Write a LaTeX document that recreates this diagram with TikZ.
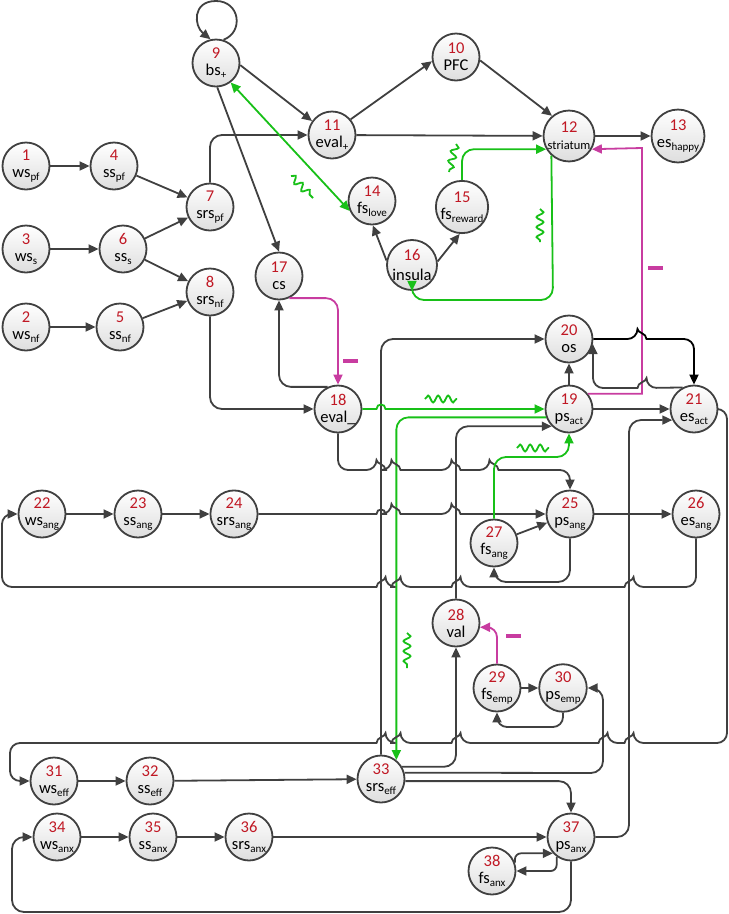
\documentclass[tikz,border=0pt]{standalone}
\usepackage{fontspec}
\setmainfont{Carlito}
\usetikzlibrary{arrows.meta,decorations.pathmorphing}
\definecolor{numred}{RGB}{192,24,36}
\definecolor{edgegray}{RGB}{64,64,64}
\definecolor{actgreen}{RGB}{24,192,24}
\definecolor{inhmag}{RGB}{200,60,160}
\newcommand{\nr}[1]{\textcolor{numred}{#1}\\}
\newcommand{\lo}[1]{{\fontsize{11}{10}\selectfont\raisebox{-2.5pt}{#1}}}
\newcommand{\hopr}[2]{-- (#1-4.5,#2) [sharp corners] .. controls (#1-4.5,#2-6) and (#1+4.5,#2-6) .. (#1+4.5,#2) -- (#1+6,#2) [rounded corners=10pt]}
\newcommand{\hopl}[2]{-- (#1+4.5,#2) [sharp corners] .. controls (#1+4.5,#2-6) and (#1-4.5,#2-6) .. (#1-4.5,#2) -- (#1-6,#2) [rounded corners=10pt]}
\begin{document}
\begin{tikzpicture}[x=1pt,y=-1pt,
  st/.style={circle,draw=edgegray,line width=1.8pt,minimum size=47pt,inner sep=0pt,
    top color=white,bottom color=black!13,align=center,font=\fontsize{16.5}{17}\selectfont},
  link/.style={draw=edgegray,line width=1.8pt,-{Triangle[length=10pt,width=9pt]}},
  excite/.style={link,draw=actgreen},
  inhibit/.style={link,draw=inhmag},
  wave/.style={draw=actgreen,line width=1.8pt,decorate,
    decoration={snake,amplitude=3.5pt,segment length=10pt}},
  minusbar/.style={rectangle,fill=inhmag,minimum width=15pt,minimum height=3.5pt,inner sep=0pt}
]
  \useasboundingbox (0,0) rectangle (729,914);

  \node[st] (wspf) at (26,166) {\nr{1}ws\lo{pf}};
  \node[st] (wsnf) at (26,327) {\nr{2}ws\lo{nf}};
  \node[st] (wss) at (26,249) {\nr{3}ws\lo{s}};
  \node[st] (sspf) at (114,166) {\nr{4}ss\lo{pf}};
  \node[st] (ssnf) at (120,327) {\nr{5}ss\lo{nf}};
  \node[st] (sss) at (123,249) {\nr{6}ss\lo{s}};
  \node[st] (srspf) at (210,207) {\nr{7}srs\lo{pf}};
  \node[st] (srsnf) at (210,292) {\nr{8}srs\lo{nf}};
  \node[st] (bsp) at (216,63) {\nr{9}bs\lo{+}};
  \node[st] (pfc) at (456,57) {\nr{10}PFC};
  \node[st] (evalp) at (332,135) {\nr{11}eval\lo{+}};
  \node[st] (striatum) at (569,136) {\nr{12}{\fontsize{12.5}{12}\selectfont striatum}};
  \node[st] (eshappy) at (678,136) {\nr{13}es\lo{happy}};
  \node[st] (fslove) at (372,201) {\nr{14}fs\lo{love}};
  \node[st] (fsreward) at (462,207) {\nr{15}fs\lo{reward}};
  \node[st] (insula) at (412,265) {\textcolor{numred}{16}\\[3pt]insula};
  \node[st] (cs) at (279,276) {\nr{17}cs};
  \node[st] (evalm) at (338,409) {\nr{18}eval\_};
  \node[st] (psact) at (569,409) {\nr{19}ps\lo{act}};
  \node[st] (os) at (569,339) {\nr{20}os};
  \node[st] (esact) at (694,409) {\nr{21}es\lo{act}};
  \node[st] (wsang) at (42,514) {\nr{22}ws\lo{ang}};
  \node[st] (ssang) at (138,514) {\nr{23}ss\lo{ang}};
  \node[st] (srsang) at (234,514) {\nr{24}srs\lo{ang}};
  \node[st] (psang) at (570,514) {\nr{25}ps\lo{ang}};
  \node[st] (esang) at (696,514) {\nr{26}es\lo{ang}};
  \node[st] (fsang) at (494,543) {\nr{27}fs\lo{ang}};
  \node[st] (val) at (456,623) {\nr{28}val};
  \node[st] (fsemp) at (497,688) {\nr{29}fs\lo{emp}};
  \node[st] (psemp) at (563,688) {\nr{30}ps\lo{emp}};
  \node[st] (wseff) at (54,781) {\nr{31}ws\lo{eff}};
  \node[st] (sseff) at (150,781) {\nr{32}ss\lo{eff}};
  \node[st] (srseff) at (381,779) {\nr{33}srs\lo{eff}};
  \node[st] (wsanx) at (57,837) {\nr{34}ws\lo{anx}};
  \node[st] (ssanx) at (153,837) {\nr{35}ss\lo{anx}};
  \node[st] (srsanx) at (249,837) {\nr{36}srs\lo{anx}};
  \node[st] (psanx) at (571,837) {\nr{37}ps\lo{anx}};
  \node[st] (fsanx) at (492,871) {\nr{38}fs\lo{anx}};

  \draw[link] (wspf) -- (sspf);
  \draw[link] (sspf) -- (srspf);
  \draw[link] (wss) -- (sss);
  \draw[link] (sss) -- (srspf);
  \draw[link] (sss) -- (srsnf);
  \draw[link] (wsnf) -- (ssnf);
  \draw[link] (ssnf) -- (srsnf);
  \draw[link,rounded corners=12pt] (srspf.north) |- (evalp.west);
  \draw[link,rounded corners=12pt] (srsnf.south) |- (evalm.west);
  \draw[link] (bsp.72) .. controls (244,32) and (240,1) .. (216,1)
    .. controls (192,1) and (194,26) .. (bsp.103);
  \draw[link] (bsp.-5) -- (evalp.145);
  \draw[link] (bsp.-87) -- (cs.north);
  \draw[link] (evalp.40) -- (pfc.190);
  \draw[link] (evalp) -- (striatum);
  \draw[link] (pfc.-8) -- (striatum.130);
  \draw[link] (striatum) -- (eshappy);
  \draw[link] (insula.170) -- (fslove.-88);
  \draw[link] (insula.8) -- (fsreward.-95);
  \draw[excite,{Triangle[length=10pt,width=9pt]}-{Triangle[length=10pt,width=9pt]}] (bsp.-53) -- (fslove.204);
  \draw[excite,rounded corners=12pt] (fsreward.north) |- (striatum.210);
  \draw[excite,rounded corners=12pt] (striatum.-132) -- (553,300) -- (412,300) -- (insula.south);
  \draw[wave] (291,176) -- (313,198);
  \draw[wave] (456,144) -- (449,172);
  \draw[wave] (540,209) -- (540,242);

  \draw[link,rounded corners=12pt] (evalm.115) -| (cs.south);
  \draw[inhibit,rounded corners=12pt] (cs.-65) -| (evalm.north);
  \node[minusbar] (m1) at (350,361) {};
  \draw[inhibit] (psact.39) -| (642,148) -- (striatum.-30);
  \node[minusbar] (m2) at (655,268) {};
  \draw[link] (psact) -- (os);
  \draw[link] (psact) -- (esact);
  \draw[link,draw=black,rounded corners=10pt] (os.east) \hopr{642}{339} -- (694,339) -- (esact.north);
  \draw[link,rounded corners=10pt] (esact.118) \hopl{642}{388} -- (593,388) -- (os.-12);
  \draw[link,rounded corners=12pt] (srseff.north) |- (os.west);
  \draw[excite] (evalm.east) \hopr{381}{409} -- (psact.west);
  \draw[wave] (425,399) -- (457,399);
  \draw[excite,rounded corners=12pt] (psact.200) -| (srseff.51);
  \draw[wave] (407,633) -- (407,668);
  \draw[link,rounded corners=12pt] (val.north) |- (psact.225);
  \draw[link,rounded corners=10pt] (evalm.south) -- (338,470) \hopr{381}{470} \hopr{396}{470}
    \hopr{456}{470} \hopr{494}{470} -- (570,470) -- (psang.north);

  \draw[link] (wsang) -- (ssang);
  \draw[link] (ssang) -- (srsang);
  \draw[link] (srsang.east) \hopr{381}{514} \hopr{396}{514} \hopr{456}{514} -- (psang.west);
  \draw[link] (psang) -- (esang);
  \draw[link] (fsang) -- (psang);
  \draw[link,rounded corners=12pt] (psang.south) -- (570,582) -- (494,582) -- (fsang.south);
  \draw[excite,rounded corners=12pt] (fsang.north) -- (494,457) -- (569,457) -- (psact.south);
  \draw[wave] (517,448) -- (549,448);
  \draw[link,rounded corners=10pt] (esang.south) -- (696,587) \hopl{629}{587} \hopl{456}{587}
    \hopl{396}{587} \hopl{381}{587} -- (2,587) -- (2,514) -- (wsang.west);

  \draw[link] (fsemp) -- (psemp);
  \draw[link,rounded corners=10pt] (psemp.south) -- (563,727) -- (497,727) -- (fsemp.south);
  \draw[inhibit,rounded corners=10pt] (fsemp.north) |- (val.-10);
  \node[minusbar] (m3) at (513,636) {};

  \draw[link,rounded corners=10pt] (esact.east) -- (727,409) -- (727,743) \hopl{629}{743}
    \hopl{603}{743} \hopl{456}{743} \hopl{396}{743} \hopl{381}{743} -- (10,743) -- (10,781) -- (wseff.west);
  \draw[link] (wseff) -- (sseff);
  \draw[link] (sseff) -- (srseff);
  \draw[link,rounded corners=12pt] (srseff.30) -| (val.south);
  \draw[link,rounded corners=12pt] (srseff.15) -- (603,773) -- (603,688) -- (psemp.east);
  \draw[link,rounded corners=12pt] (srseff.-5) -| (psanx.north);

  \draw[link] (wsanx) -- (ssanx);
  \draw[link] (ssanx) -- (srsanx);
  \draw[link] (srsanx) -- (psanx);
  \draw[link,rounded corners=6pt] (fsanx.20) |- (psanx.222);
  \draw[link,rounded corners=6pt] (psanx.234) |- (fsanx.east);
  \draw[link,rounded corners=12pt] (psanx.east) -- (629,837) -- (629,420) -- (esact.207);
  \draw[link,rounded corners=12pt] (psanx.south) -- (571,912) -- (12,912) -- (12,837) -- (wsanx.west);
\end{tikzpicture}
\end{document}
